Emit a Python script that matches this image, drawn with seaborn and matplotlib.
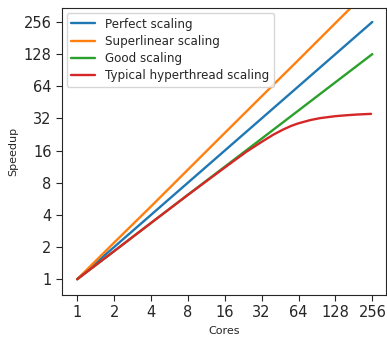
import pandas as pd
import matplotlib
matplotlib.use("Agg")
import matplotlib.pyplot as plt
import matplotlib.ticker as mticker
import seaborn as sns

cores = [1, 2, 4, 8, 16, 32, 64, 128, 256]
perfect = [1, 2, 4, 8, 16, 32, 64, 128, 256]
superlinear = [1, 2.2, 4.8, 10.6, 23.4, 51.5, 113, 250, 550]
good = [1, 1.83, 3.36, 6.17, 11.3, 20.7, 38, 69.8, 128]

ht_cores = [1, 2, 4, 8, 16, 24, 32, 40, 48, 56, 64, 80, 96, 128, 160, 192, 250]
hyperthread = [1, 1.83, 3.36, 6.15, 11.1, 15.6, 19.3, 22.6, 25.2, 27.3, 28.8, 30.9, 32.2, 33.6, 34.3, 34.8, 35.3]

labels = ["Perfect scaling", "Superlinear scaling", "Good scaling",
          "Typical hyperthread scaling"]

rows = []
for name, xs, ys in [(labels[0], cores, perfect), (labels[1], cores, superlinear),
                     (labels[2], cores, good), (labels[3], ht_cores, hyperthread)]:
    for x, y in zip(xs, ys):
        rows.append({"Cores": x, "Speedup": y, "series": name})
df = pd.DataFrame(rows)

sns.set_style("ticks")
fig = plt.figure(figsize=(3.87, 3.38), dpi=100)
ax = fig.add_axes([0.16, 0.127, 0.837, 0.849])

sns.lineplot(data=df, x="Cores", y="Speedup", hue="series", hue_order=labels,
             palette=["#1f77b4", "#ff7f0e", "#2ca02c", "#d62728"],
             linewidth=1.7, ax=ax)

ax.set_xscale("log", base=2)
ax.set_yscale("log", base=2)
ax.set_xlim(0.75, 330)
ax.set_ylim(0.71, 345)
ax.xaxis.set_major_locator(mticker.FixedLocator(cores))
ax.yaxis.set_major_locator(mticker.FixedLocator(cores))
ax.xaxis.set_major_formatter(mticker.FixedFormatter([str(c) for c in cores]))
ax.yaxis.set_major_formatter(mticker.FixedFormatter([str(c) for c in cores]))
ax.xaxis.set_minor_locator(mticker.NullLocator())
ax.yaxis.set_minor_locator(mticker.NullLocator())
ax.tick_params(axis="both", labelsize=10.5, colors="#262626", length=4)
for s in ax.spines.values():
    s.set_visible(True)
    s.set_color("#262626")
ax.set_xlabel("Cores", fontsize=8)
ax.set_ylabel("Speedup", fontsize=8)

leg = ax.legend(loc="upper left", fontsize=8.6, frameon=True, handlelength=2,
                labelspacing=0.35, borderaxespad=0.4)
leg.get_frame().set_edgecolor("#cccccc")

fig.savefig("out.png", dpi=100)
